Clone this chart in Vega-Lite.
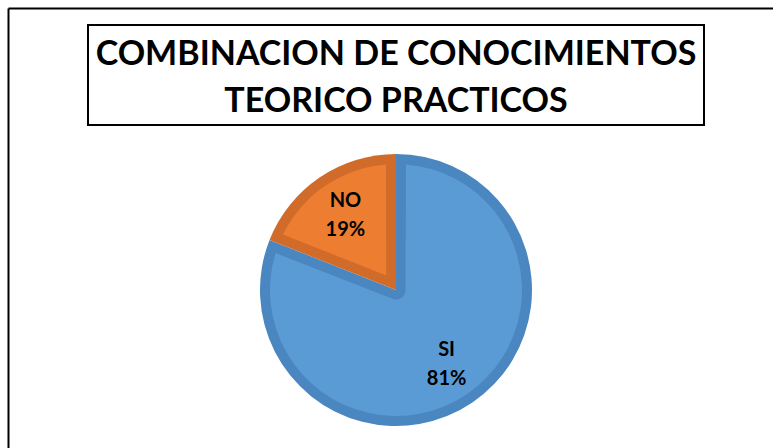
{
  "$schema": "https://vega.github.io/schema/vega-lite/v6.json",
  "autosize": {"type": "pad"},
  "padding": {"left": 8, "top": 8, "right": 0, "bottom": 0},
  "background": "white",
  "spacing": 0,
  "center": true,
  "bounds": "flush",
  "config": {"view": {"stroke": null}},
  "vconcat": [
    {
      "width": 616,
      "height": 100,
      "view": {"stroke": "black", "strokeWidth": 2},
      "data": {"values": [{"titulo": "COMBINACION DE CONOCIMIENTOS\nTEORICO PRACTICOS"}]},
      "mark": {"type": "text", "lineBreak": "\n", "font": "Lato", "fontWeight": "bold", "fontSize": 34, "lineHeight": 47, "align": "center", "baseline": "middle", "dy": -20, "color": "black"},
      "encoding": {"text": {"field": "titulo"}}
    },
    {
      "width": 776,
      "height": 330,
      "data": {"values": [{"cat": "SI", "value": 81}, {"cat": "NO", "value": 19}]},
      "layer": [
        {
          "mark": {"type": "point", "opacity": 0},
          "encoding": {
            "x": {"field": "value", "type": "quantitative", "scale": {"range": [0, 776]},
                  "axis": {"orient": "top", "offset": 117, "domain": true, "domainColor": "black", "domainWidth": 2, "labels": false, "ticks": false, "grid": false, "title": null}},
            "y": {"field": "value", "type": "quantitative", "scale": {"range": [330, -117]},
                  "axis": {"orient": "left", "domain": true, "domainColor": "black", "domainWidth": 2, "labels": false, "ticks": false, "grid": false, "title": null}}
          }
        },
        {
          "mark": {"type": "arc", "outerRadius": 136},
          "encoding": {
            "theta": {"field": "value", "type": "quantitative", "stack": true},
            "order": {"field": "value", "sort": "descending"},
            "color": {"condition": {"test": "datum.cat === 'NO'", "value": "#D16B2A"}, "value": "#4A86C0"}
          }
        },
        {
          "mark": {"type": "arc", "outerRadius": 126, "innerRadius": 17.5, "padAngle": 0.1574},
          "encoding": {
            "theta": {"field": "value", "type": "quantitative", "stack": true},
            "order": {"field": "value", "sort": "descending"},
            "color": {"condition": {"test": "datum.cat === 'NO'", "value": "#ED7D31"}, "value": "transparent"}
          }
        },
        {
          "mark": {"type": "arc", "outerRadius": 126, "innerRadius": 9.5, "padAngle": 0.1585},
          "encoding": {
            "theta": {"field": "value", "type": "quantitative", "stack": true},
            "order": {"field": "value", "sort": "descending"},
            "color": {"condition": {"test": "datum.cat === 'SI'", "value": "#5B9BD5"}, "value": "transparent"}
          }
        },
        {
          "transform": [{"calculate": "datum.cat + '\\n' + datum.value + '%'", "as": "label"}],
          "mark": {"type": "text", "radius": 90, "dy": -14.5, "font": "Lato", "fontWeight": "bold", "fontSize": 20, "lineHeight": 29, "lineBreak": "\n", "align": "center", "baseline": "middle", "color": "black"},
          "encoding": {
            "theta": {"field": "value", "type": "quantitative", "stack": true},
            "order": {"field": "value", "sort": "descending"},
            "text": {"field": "label"}
          }
        }
      ]
    }
  ]
}
